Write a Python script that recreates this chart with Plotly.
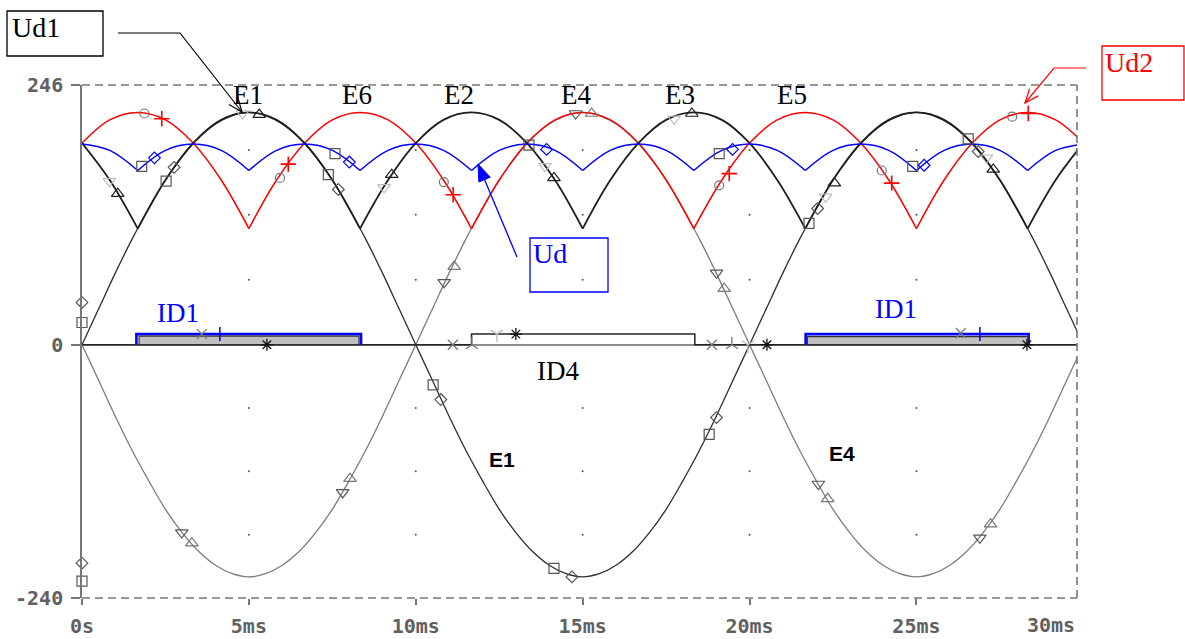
import math
import plotly.graph_objects as go

# ---------------- data ----------------
t_sine = [0, 0.5, 1, 1.5, 2, 2.5, 3, 3.5, 4, 4.5, 5, 5.5, 6, 6.5, 7, 7.5, 8, 8.5, 9, 9.5,
          10, 10.5, 11, 11.5, 12, 12.5, 13, 13.5, 14, 14.5, 15, 15.5, 16, 16.5, 17, 17.5,
          18, 18.5, 19, 19.5, 20, 20.5, 21, 21.5, 22, 22.5, 23, 23.5, 24, 24.5, 25, 25.5,
          26, 26.5, 27, 27.5, 28, 28.5, 29, 29.5, 30]
E1 = [0, 34, 68, 100, 129, 156, 178, 196, 209, 217, 220,
      217, 209, 196, 178, 156, 129, 100, 68, 34, 0,
      -34, -68, -100, -129, -156, -178, -196, -209, -217, -220,
      -217, -209, -196, -178, -156, -129, -100, -68, -34, 0,
      34, 68, 100, 129, 156, 178, 196, 209, 217, 220,
      217, 209, 196, 178, 156, 129, 100, 68, 34, 0]
E4 = [0, -34, -68, -100, -129, -156, -178, -196, -209, -217, -220,
      -217, -209, -196, -178, -156, -129, -100, -68, -34, 0,
      34, 68, 100, 129, 156, 178, 196, 209, 217, 220,
      217, 209, 196, 178, 156, 129, 100, 68, 34, 0,
      -34, -68, -100, -129, -156, -178, -196, -209, -217, -220,
      -217, -209, -196, -178, -156, -129, -100, -68, -34, 0]

# Ud1 (positive group), arcs separated by None at the commutation cusps
ud1_t = [0, 0.83, 1.67, None,
         1.67, 2.5, 3.33, 4.17, 5, 5.83, 6.67, 7.5, 8.33, None,
         8.33, 9.17, 10, 10.83, 11.67, 12.5, 13.33, 14.17, 15, None,
         15, 15.83, 16.67, 17.5, 18.33, 19.17, 20, 20.83, 21.67, None,
         21.67, 22.5, 23.33, 24.17, 25, 25.83, 26.67, 27.5, 28.33, None,
         28.33, 29.17, 30]
ud1_v = [191, 156, 110, None,
         110, 156, 191, 213, 220, 213, 191, 156, 110, None,
         110, 156, 191, 213, 220, 213, 191, 156, 110, None,
         110, 156, 191, 213, 220, 213, 191, 156, 110, None,
         110, 156, 191, 213, 220, 213, 191, 156, 110, None,
         110, 156, 191]
ud2_t = [0, 0.83, 1.67, 2.5, 3.33, 4.17, 5, None,
         5, 5.83, 6.67, 7.5, 8.33, 9.17, 10, 10.83, 11.67, None,
         11.67, 12.5, 13.33, 14.17, 15, 15.83, 16.67, 17.5, 18.33, None,
         18.33, 19.17, 20, 20.83, 21.67, 22.5, 23.33, 24.17, 25, None,
         25, 25.83, 26.67, 27.5, 28.33, 29.17, 30]
ud2_v = [191, 213, 220, 213, 191, 156, 110, None,
         110, 156, 191, 213, 220, 213, 191, 156, 110, None,
         110, 156, 191, 213, 220, 213, 191, 156, 110, None,
         110, 156, 191, 213, 220, 213, 191, 156, 110, None,
         110, 156, 191, 213, 220, 213, 191]
ud_t = [0, 0.83, 1.67, None,
        1.67, 2.5, 3.33, 4.17, 5, None,
        5, 5.83, 6.67, 7.5, 8.33, None,
        8.33, 9.17, 10, 10.83, 11.67, None,
        11.67, 12.5, 13.33, 14.17, 15, None,
        15, 15.83, 16.67, 17.5, 18.33, None,
        18.33, 19.17, 20, 20.83, 21.67, None,
        21.67, 22.5, 23.33, 24.17, 25, None,
        25, 25.83, 26.67, 27.5, 28.33, None,
        28.33, 29.17, 30]
ud_v = [190, 184, 165, None,
        165, 184, 190, 184, 165, None,
        165, 184, 190, 184, 165, None,
        165, 184, 190, 184, 165, None,
        165, 184, 190, 184, 165, None,
        165, 184, 190, 184, 165, None,
        165, 184, 190, 184, 165, None,
        165, 184, 190, 184, 165, None,
        165, 184, 190, 184, 165, None,
        165, 184, 190]

# diode currents
id1_t = [1.63, 1.63, 8.36, 8.36, None, 21.68, 21.68, 28.36, 28.36]
id1_v = [0, 10, 10, 0, None, 0, 10, 10, 0]
id1b_t = [1.71, 1.71, 8.3, 8.3, 1.71, None, 21.73, 21.73, 28.34, 28.34, 21.73]
id1b_v = [0, 8, 8, 0, 0, None, 0, 7.6, 7.6, 0, 0]
id4_t = [0, 11.67, 11.67, 18.36, 18.36, 29.8]
id4_v = [0, 0, 10, 10, 0, 0]

# trace markers (time ms, value)
mk_tri_dn_light = ([0.82, 4.81, 9.05, 13.87, 17.74, 22.28, 27.10],
                   [155, 219, 149, 169, 214, 140, 177])
mk_tri_up_black = ([1.07, 5.31, 9.28, 14.14, 18.27, 22.54, 27.30],
                   [143, 218, 161, 158, 219, 153, 166])
mk_tri_dn_grey = ([14.79, 2.99, 7.81, 10.85, 19.01, 22.06, 26.90],
                  [219, -178, -140, 59, 68, -132, -183])
mk_tri_up_grey = ([15.27, 3.29, 8.03, 11.15, 19.24, 22.34, 27.22],
                  [219, -188, -127, 74, 53, -146, -170])
mk_sq_ud = ([1.79, 7.58, 13.39, 19.09, 24.89], [169, 181, 189, 181, 169])
mk_dia_ud = ([2.17, 8.01, 13.92, 19.49, 25.23], [177, 173, 185, 185, 170])
mk_sq_e = ([0, 0, 2.52, 7.38, 10.52, 14.14, 18.79, 21.78, 26.55],
           [21, -224, 155, 161, -38, -212, -85, 115, 195])
mk_dia_e = ([0, 0, 2.76, 7.68, 10.75, 14.68, 19.01, 22.04, 26.85],
            [40, -207, 168, 147, -52, -220, -69, 129, 183])
mk_circ = ([1.87, 5.93, 10.84, 19.09, 23.96, 27.87], [219, 158, 154, 151, 165, 216])
mk_plus_red = ([2.39, 6.18, 11.12, 19.39, 24.26, 28.35], [214, 171, 142, 162, 153, 219])
mk_x = ([3.59, 11.11, 18.87, 26.33], [10, 0, 0, 11])
mk_plus_blue = ([4.13, 26.90], [10, 10])
mk_yup = ([11.68, 19.47], [0, 0])
mk_ydn = ([12.43, 19.95], [10, 0])
mk_ast = ([5.54, 13.00, 20.52, 28.31], [0, 10, 0, 0])

# axis ticks / grid
x_ticks = [0, 5, 10, 15, 20, 25]
x_ticktext = ["0s", "5ms", "10ms", "15ms", "20ms", "25ms"]
y_ticks = [-240, 0, 246]
y_ticktext = ["-240", "0", "246"]
x_grid = [5, 10, 15, 20, 25]
y_grid = [-180, -120, -60, 61.5, 123, 184.5]

# ---------------- geometry helpers (layout decoration) ----------------
L, T, W, H = 82, 85, 995, 513


def pxx(x):
    return (x - L) / W


def pxy(y):
    return (T + H - y) / H


def head(tip, tail, length=15, ang=22):
    dx, dy = tail[0] - tip[0], tail[1] - tip[1]
    d = math.hypot(dx, dy)
    ux, uy = dx / d, dy / d
    pts = []
    for s in (1, -1):
        a = math.radians(ang * s)
        bx = ux * math.cos(a) - uy * math.sin(a)
        by = ux * math.sin(a) + uy * math.cos(a)
        pts.append((tip[0] + bx * length, tip[1] + by * length))
    return pts


def path(points, close=False):
    s = "M " + " L ".join(f"{pxx(x):.5f},{pxy(y):.5f}" for x, y in points)
    return s + (" Z" if close else "")


fig = go.Figure()

# phase voltages
fig.add_trace(go.Scatter(x=t_sine, y=E4, mode="lines", line=dict(color="#7d7d7d", width=1.3, shape="spline"),
                         hoverinfo="skip"))
fig.add_trace(go.Scatter(x=t_sine, y=E1, mode="lines", line=dict(color="#2e2e2e", width=1.3, shape="spline"),
                         hoverinfo="skip"))
# rectified outputs
fig.add_trace(go.Scatter(x=ud2_t, y=ud2_v, mode="lines", connectgaps=False,
                         line=dict(color="#ff0000", width=1.5, shape="spline"), hoverinfo="skip"))
fig.add_trace(go.Scatter(x=ud1_t, y=ud1_v, mode="lines", connectgaps=False,
                         line=dict(color="#1e1e1e", width=1.8, shape="spline"), hoverinfo="skip"))
fig.add_trace(go.Scatter(x=ud_t, y=ud_v, mode="lines", connectgaps=False,
                         line=dict(color="#0000ff", width=1.5, shape="spline"), hoverinfo="skip"))

# currents
fig.add_trace(go.Scatter(x=id4_t, y=id4_v, mode="lines", line=dict(color="#262626", width=1.5),
                         hoverinfo="skip"))
fig.add_trace(go.Scatter(x=id1_t, y=id1_v, mode="lines", line=dict(color="#0000ff", width=2.6),
                         hoverinfo="skip"))
fig.add_trace(go.Scatter(x=id1b_t, y=id1b_v, mode="lines", fill="toself", fillcolor="#c0c0c0",
                         line=dict(color="#303030", width=1.2), hoverinfo="skip"))

# grid dots
gx = [gxv for gxv in x_grid for _ in y_grid]
gy = [gyv for _ in x_grid for gyv in y_grid]
fig.add_trace(go.Scatter(x=gx, y=gy, mode="markers", marker=dict(size=2, color="#555555"),
                         hoverinfo="skip"))


def add_markers(data, symbol, color, size=10, width=1.2):
    fig.add_trace(go.Scatter(x=data[0], y=data[1], mode="markers", cliponaxis=False,
                             marker=dict(symbol=symbol, size=size, color=color,
                                         line=dict(color=color, width=width)),
                             hoverinfo="skip"))


add_markers(mk_tri_dn_light, "triangle-down-open", "#bdbdbd", 11)
add_markers(mk_tri_up_black, "triangle-up-open", "#1e1e1e", 11)
add_markers(mk_tri_dn_grey, "triangle-down-open", "#555555", 11)
add_markers(mk_tri_up_grey, "triangle-up-open", "#777777", 11)
add_markers(mk_sq_ud, "square-open", "#555555", 10)
add_markers(mk_dia_ud, "diamond-open", "#0000ff", 9)
add_markers(mk_sq_e, "square-open", "#555555", 10)
add_markers(mk_dia_e, "diamond-open", "#555555", 9)
add_markers(mk_circ, "circle-open", "#777777", 9)
add_markers(mk_plus_red, "cross-thin-open", "#ff0000", 11, 1.6)
add_markers(mk_x, "x-thin-open", "#777777", 10, 1.3)
add_markers(mk_plus_blue, "cross-thin-open", "#0000ff", 10, 1.5)
add_markers(mk_yup, "y-up-open", "#777777", 10, 1.3)
add_markers(mk_ydn, "y-down-open", "#bbbbbb", 10, 1.3)
add_markers(mk_ast, "asterisk-open", "#111111", 10, 1.3)

# ---------------- decorations ----------------
border = dict(color="#777777", width=1.6, dash="8px,5px")
shapes = [
    dict(type="line", xref="paper", yref="paper", x0=0, x1=1, y0=1, y1=1, line=border),
    dict(type="line", xref="paper", yref="paper", x0=0, x1=1, y0=0, y1=0, line=border),
    dict(type="line", xref="paper", yref="paper", x0=1, x1=1, y0=0, y1=1, line=border),
]

# Ud1 call-out
shapes.append(dict(type="rect", xref="paper", yref="paper", x0=pxx(7), x1=pxx(103), y0=pxy(56), y1=pxy(11),
                   line=dict(color="#000000", width=1.3)))
tip1, tail1 = (242, 112), (180, 33)
shapes.append(dict(type="path", xref="paper", yref="paper", path=path([(118, 33), tail1, tip1]),
                   line=dict(color="#000000", width=1.2)))
b = head(tip1, tail1)
shapes.append(dict(type="path", xref="paper", yref="paper", path=path([b[0], tip1, b[1]]),
                   line=dict(color="#000000", width=1.2)))

# Ud2 call-out
shapes.append(dict(type="rect", xref="paper", yref="paper", x0=pxx(1102), x1=pxx(1184), y0=pxy(100),
                   y1=pxy(46), line=dict(color="#ff0000", width=1.3)))
tip2, tail2 = (1025, 103), (1054, 68)
shapes.append(dict(type="path", xref="paper", yref="paper", path=path([(1086, 68), tail2, tip2]),
                   line=dict(color="#ff0000", width=1.2)))
b = head(tip2, tail2)
shapes.append(dict(type="path", xref="paper", yref="paper", path=path([b[0], tip2, b[1]]),
                   line=dict(color="#ff0000", width=1.2)))

# Ud call-out
shapes.append(dict(type="rect", xref="paper", yref="paper", x0=pxx(530), x1=pxx(608), y0=pxy(292),
                   y1=pxy(238), line=dict(color="#0000ff", width=1.3)))
tip3, tail3 = (478, 164), (517, 257)
shapes.append(dict(type="path", xref="paper", yref="paper", path=path([tail3, tip3]),
                   line=dict(color="#0000ff", width=1.3)))
b = head(tip3, tail3, length=18, ang=20)
shapes.append(dict(type="path", xref="paper", yref="paper", path=path([b[0], tip3, b[1]], close=True),
                   fillcolor="#0000ff", line=dict(color="#0000ff", width=1)))

serif = "Liberation Serif, Times New Roman, serif"
annotations = []


def label_px(text, x, y, color, size, family=serif, anchor="left", weight="normal"):
    annotations.append(dict(text=text, xref="paper", yref="paper", x=pxx(x), y=pxy(y), xanchor=anchor,
                            yanchor="middle", showarrow=False,
                            font=dict(family=family, size=size, color=color, weight=weight)))


label_px("Ud1", 10, 28, "#000000", 28)
label_px("Ud2", 1103, 62, "#ff0000", 28)
label_px("Ud", 531, 253, "#0000ff", 28)

for txt, x in [("E1", 247.5), ("E6", 357), ("E2", 459), ("E4", 575.5), ("E3", 680), ("E5", 792)]:
    label_px(txt, x, 95, "#000000", 27, anchor="center")

label_px("ID1", 177.5, 313, "#0000ff", 27, anchor="center")
label_px("ID1", 896, 309, "#0000ff", 27, anchor="center")
label_px("ID4", 557.5, 371, "#000000", 27, anchor="center")
label_px("E1", 502, 459, "#000000", 21, family="Liberation Sans, Arial, sans-serif", anchor="center",
         weight="bold")
label_px("E4", 841.5, 453, "#000000", 21, family="Liberation Sans, Arial, sans-serif", anchor="center",
         weight="bold")

tickfont = dict(family="DejaVu Sans Mono, monospace", size=20, color="#606060", weight="bold")
annotations.append(dict(text="30ms", xref="paper", yref="paper", x=1.0, y=pxy(625), xanchor="right",
                        yanchor="middle", showarrow=False, font=tickfont))

fig.update_layout(
    width=1185, height=639,
    margin=dict(l=L, r=1185 - L - W, t=T, b=639 - T - H, pad=0, autoexpand=False),
    paper_bgcolor="white", plot_bgcolor="white",
    showlegend=False,
    shapes=shapes,
    annotations=annotations,
    xaxis=dict(range=[0, 29.81], tickvals=x_ticks, ticktext=x_ticktext, ticks="outside", ticklen=6,
               tickwidth=1.5, tickcolor="#777777", showgrid=False, zeroline=False, showline=False,
               tickfont=tickfont, ticklabelstandoff=4, fixedrange=True, automargin=False),
    yaxis=dict(range=[-240, 246], tickvals=y_ticks, ticktext=y_ticktext, ticks="outside", ticklen=9,
               tickwidth=1.5, tickcolor="#777777", showgrid=False, zeroline=True,
               zerolinecolor="#8c8c8c", zerolinewidth=1.6, showline=True, linecolor="#777777",
               linewidth=1.6, tickfont=tickfont, ticklabelstandoff=4, fixedrange=True, automargin=False),
)

fig.write_html("out.html")
